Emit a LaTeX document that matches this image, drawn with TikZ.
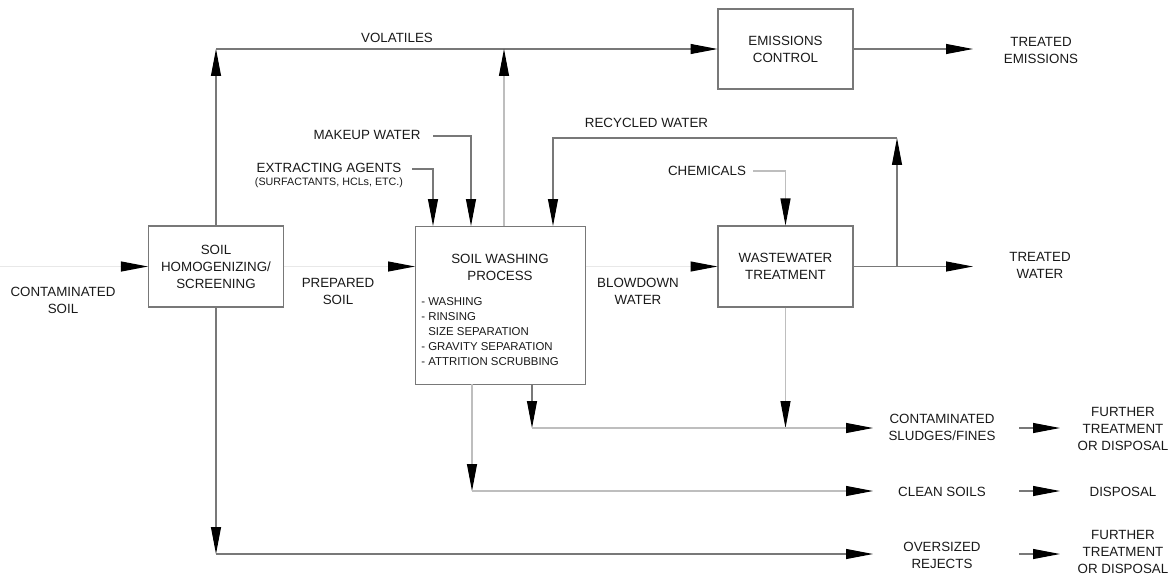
\documentclass[tikz,border=0pt]{standalone}
\usepackage{fontspec}
\setmainfont{Liberation Sans}
\usepackage{tikz}
\usetikzlibrary{arrows.meta,positioning,calc}
\newcommand{\lblfont}{\fontsize{7.6}{9.7}\selectfont}
\newcommand{\listfont}{\fontsize{6.5}{8.5}\selectfont}
\newcommand{\subfont}{\fontsize{6.1}{7.5}\selectfont}
\definecolor{linegray}{RGB}{120,120,120}
\definecolor{fadegray}{RGB}{190,190,190}
\definecolor{palegray}{RGB}{232,232,232}
\definecolor{inkgray}{RGB}{25,25,25}

\begin{document}
\begin{tikzpicture}[x=0.02cm, y=-0.02cm,
    unit/.style={rectangle, draw=linegray, line width=0.6pt, minimum width=2.7cm, minimum height=1.62cm, inner sep=0pt, font=\lblfont, align=center, text=inkgray},
    lbl/.style={font=\lblfont, align=center, inner sep=0pt, text=inkgray},
    pipe/.style={draw=linegray, line width=0.6pt},
    faint/.style={draw=fadegray, line width=0.6pt},
    pale/.style={draw=palegray, line width=0.6pt},
    tip/.style={-{Triangle[length=0.54cm, width=0.2cm, color=black]}}
]
\useasboundingbox (0,0) rectangle (1173,582);

% Process units
\node[unit] (homog) at (216,266.5) {SOIL\\HOMOGENIZING/\\SCREENING};
\node[unit, minimum width=3.4cm, minimum height=3.16cm] (wash) at (500.5,305.5) {};
\node[lbl] (washttl) at (500,267) {SOIL WASHING\\PROCESS};
\node[lbl, font=\listfont, align=left, anchor=west] (washlist) at (421,331.5) {- WASHING\\- RINSING\\\phantom{- }SIZE SEPARATION\\- GRAVITY SEPARATION\\- ATTRITION SCRUBBING};
\node[unit] (ww) at (785.5,266.5) {WASTEWATER\\TREATMENT};
\node[unit, minimum height=1.6cm] (emis) at (785.5,49) {EMISSIONS\\CONTROL};

% Stream labels
\node[lbl] (csoil) at (63,300.5) {CONTAMINATED\\SOIL};
\node[lbl] (psoil) at (338,291) {PREPARED\\SOIL};
\node[lbl] (bdw) at (638,291) {BLOWDOWN\\WATER};
\node[lbl] (twat) at (1040,265.5) {TREATED\\WATER};
\node[lbl] (temis) at (1041,50.5) {TREATED\\EMISSIONS};
\node[lbl] (vol) at (397,38) {VOLATILES};
\node[lbl] (mkw) at (367,135) {MAKEUP WATER};
\node[lbl] (xag) at (329,168) {EXTRACTING AGENTS};
\node[lbl, font=\subfont, below=0.08cm of xag] (xagsub) {(SURFACTANTS, HCLs, ETC.)};
\node[lbl] (recw) at (646.5,123) {RECYCLED WATER};
\node[lbl] (chem) at (707,171) {CHEMICALS};

% Outlets
\node[lbl] (sludge) at (942,427) {CONTAMINATED\\SLUDGES/FINES};
\node[lbl] (clean) at (942,492) {CLEAN SOILS};
\node[lbl] (overs) at (942,555.5) {OVERSIZED\\REJECTS};
\node[lbl] (fate1) at (1123,429) {FURTHER\\TREATMENT\\OR DISPOSAL};
\node[lbl] (fate2) at (1123,492) {DISPOSAL};
\node[lbl] (fate3) at (1123,552) {FURTHER\\TREATMENT\\OR DISPOSAL};

% Junctions and free ends
\coordinate (cin) at (0,266.5);
\coordinate (volL) at (216,49);
\coordinate (ventB) at (504,226);
\coordinate (ventT) at (504,49);
\coordinate (teIn) at (973,49);
\coordinate (xagE) at (412,169);
\coordinate (xagIn) at (433,226);
\coordinate (mkwE) at (433,136);
\coordinate (mkwIn) at (471,226);
\coordinate (recIn) at (553,226);
\coordinate (recL) at (553,138);
\coordinate (recR) at (897,138);
\coordinate (recJ) at (897,266.5);
\coordinate (twIn) at (973,266.5);
\coordinate (chemE) at (753,171);
\coordinate (washS1) at (472,384);
\coordinate (cleanC) at (472,491);
\coordinate (cleanE) at (873,491);
\coordinate (washS2) at (532,384);
\coordinate (sludgeC) at (532,428);
\coordinate (sludgeE) at (873,428);
\coordinate (wwC) at (785.5,428);
\coordinate (homC) at (216,554);
\coordinate (oversE) at (873,554);

% Feed line
\draw[pale,tip] (cin) -- (homog.west);
\draw[pale,tip] (homog.east) -- (wash.west |- homog.east);
\draw[pale,tip] (wash.east |- ww.west) -- (ww.west);

% Volatiles
\draw[pipe,tip] (homog.north) -- (volL);
\draw[pipe,tip] (volL) -- (emis.west);
\draw[faint,tip] (ventB) -- (ventT);
\draw[pipe,tip] (emis.east) -- (teIn);

% Additives and recycle
\draw[pipe,tip] (xagE) -| (xagIn);
\draw[pipe,tip] (mkwE) -| (mkwIn);
\draw[faint,tip] (chemE) -| (ww.north);
\draw[pipe,tip] (ww.east) -- (twIn);
\draw[pipe,tip] (recJ) -- (recR);
\draw[pipe,tip] (recR) -- (recL) -- (recIn);

% Residual streams
\draw[pipe,tip] (washS2) -- (sludgeC);
\draw[faint,tip] (ww.south) -- (wwC);
\draw[faint,tip] (sludgeC) -- (sludgeE);
\draw[faint,tip] (washS1) -- (cleanC);
\draw[faint,tip] (cleanC) -- (cleanE);
\draw[pipe,tip] (homog.south) -- (homC);
\draw[pipe,tip] (homC) -- (oversE);

% Final fate
\foreach \yy in {428,491,554}
    \draw[pipe,tip] (1019,\yy) -- (1060,\yy);

\end{tikzpicture}
\end{document}
